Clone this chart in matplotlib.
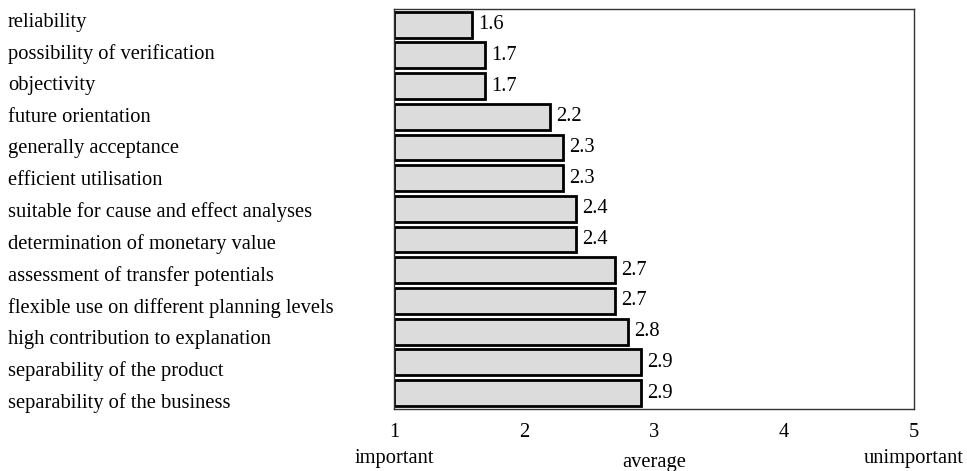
import matplotlib.pyplot as plt
import matplotlib.transforms as mtransforms

plt.rcParams['font.family'] = ['Liberation Serif', 'DejaVu Serif']

criteria = ['reliability', 'possibility of verification', 'objectivity',
            'future orientation', 'generally acceptance', 'efficient utilisation',
            'suitable for cause and effect analyses', 'determination of monetary value',
            'assessment of transfer potentials', 'flexible use on different planning levels',
            'high contribution to explanation', 'separability of the product',
            'separability of the business']
scores = [1.6, 1.7, 1.7, 2.2, 2.3, 2.3, 2.4, 2.4, 2.7, 2.7, 2.8, 2.9, 2.9]
ticks = [1, 2, 3, 4, 5]
scale_words = {1: 'important', 3: 'average', 5: 'unimportant'}

FS = 14.8
fig = plt.figure(figsize=(9.67, 4.71), dpi=100)
ax = fig.add_axes([394 / 967, 1 - 408.7 / 471, 520 / 967, 399.7 / 471])

n = len(criteria)
ypos = [n - 1 - i for i in range(n)]
widths = [s - 1 for s in scores]
ax.barh(ypos, widths, left=1, height=0.84, color='#dcdcdc',
        edgecolor='black', linewidth=2)

for y, s in zip(ypos, scores):
    ax.text(s + 0.05, y, f'{s:.1f}', va='center', ha='left', fontsize=FS)

# category labels sit on their own slightly wider row spacing
for i, c in enumerate(criteria):
    fig.text(8 / 967, 1 - (22 + i * 31.75) / 471, c, va='center', ha='left',
             fontsize=FS)

ax.set_xlim(1, 5)
ax.set_ylim(-0.51, n - 0.49)
ax.set_yticks([])
ax.set_xticks(ticks)
ax.set_xticklabels([str(t) for t in ticks], fontsize=FS)
ax.tick_params(axis='x', length=0, pad=10)
for sp in ax.spines.values():
    sp.set_color('#333333')
    sp.set_linewidth(1)

xtrans = mtransforms.blended_transform_factory(ax.transData, fig.transFigure)
offsets = {1: 459, 3: 463, 5: 458}
for t, w in scale_words.items():
    ax.text(t, 1 - offsets[t] / 471, w, transform=xtrans, ha='center',
            va='center', fontsize=FS)

plt.savefig('out.png', dpi=100)
